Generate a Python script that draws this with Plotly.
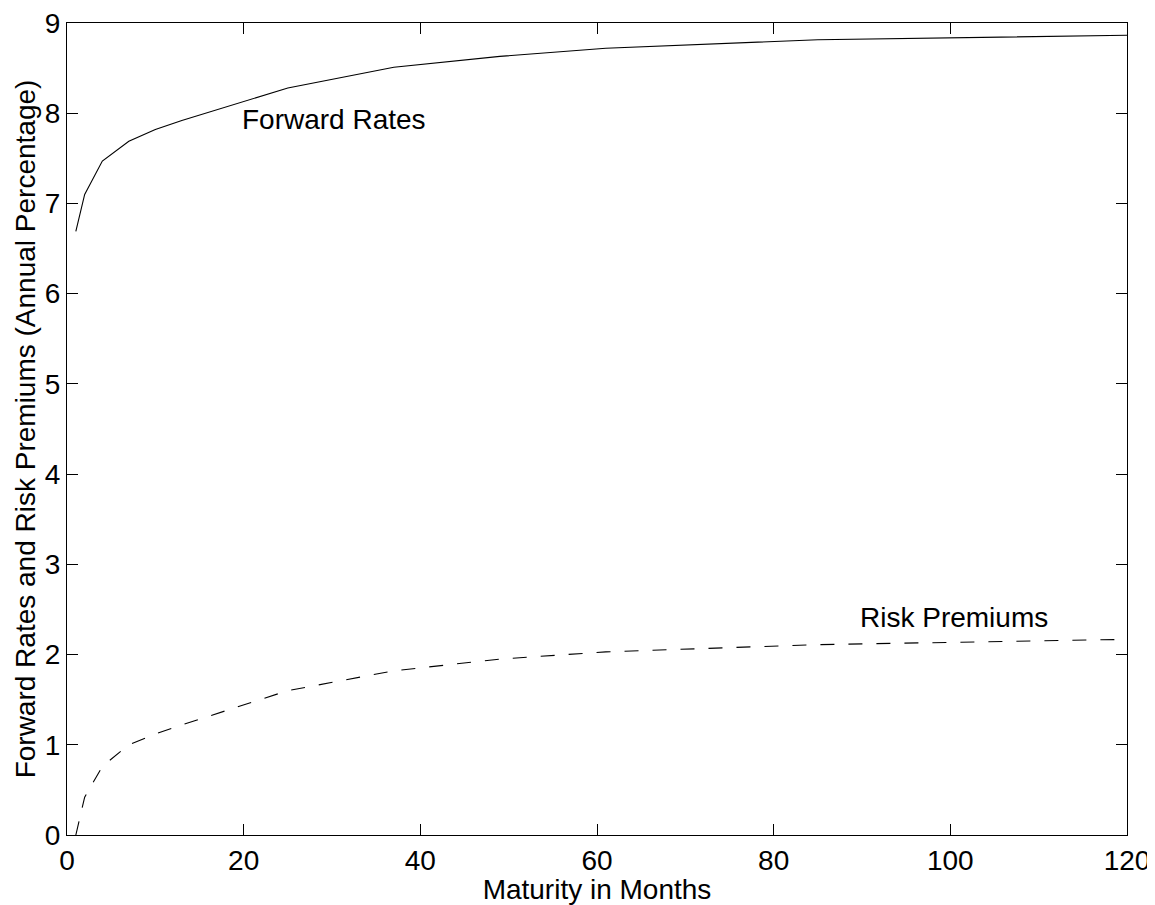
import plotly.graph_objects as go

maturity = [1, 2, 4, 7, 10, 13, 25, 37, 49, 61, 85, 121]
forward_rates = [6.69, 7.10, 7.47, 7.69, 7.82, 7.92, 8.28, 8.51, 8.63, 8.72, 8.815, 8.865]
risk_premiums = [0.0, 0.42, 0.76, 1.00, 1.12, 1.22, 1.60, 1.82, 1.95, 2.03, 2.11, 2.17]

x_ticks = [0, 20, 40, 60, 80, 100, 120]
y_ticks = [0, 1, 2, 3, 4, 5, 6, 7, 8, 9]

FONT = "Liberation Sans, Arial, sans-serif"
FS = 28

fig = go.Figure()
fig.add_trace(go.Scatter(x=maturity, y=forward_rates, mode="lines",
                         line=dict(color="black", width=1.1), name="Forward Rates"))
fig.add_trace(go.Scatter(x=maturity, y=risk_premiums, mode="lines",
                         line=dict(color="black", width=1.1, dash="14px,14px"),
                         name="Risk Premiums"))

fig.add_annotation(x=19.6, y=7.93, text="Forward Rates", showarrow=False,
                   xanchor="left", yanchor="middle", font=dict(family=FONT, size=FS, color="black"))
fig.add_annotation(x=89.5, y=2.41, text="Risk Premiums", showarrow=False,
                   xanchor="left", yanchor="middle", font=dict(family=FONT, size=FS, color="black"))

axis_common = dict(showline=True, linecolor="black", linewidth=1.3, mirror="ticks",
                   ticks="inside", ticklen=11, tickwidth=1, tickcolor="black",
                   showgrid=False, zeroline=False, automargin=False,
                   ticklabeloverflow="allow",
                   tickfont=dict(family=FONT, size=FS, color="black"))

fig.update_xaxes(range=[0, 120], tickvals=x_ticks, ticktext=[str(v) for v in x_ticks],
                 title=dict(text="Maturity in Months", font=dict(family=FONT, size=FS, color="black"),
                            standoff=0),
                 **axis_common)
fig.update_yaxes(range=[0, 9], tickvals=y_ticks, ticktext=[str(v) for v in y_ticks],
                 title=dict(text="Forward Rates and Risk Premiums (Annual Percentage)",
                            font=dict(family=FONT, size=FS, color="black"), standoff=0),
                 **axis_common)

fig.update_layout(width=1147, height=897, showlegend=False,
                  plot_bgcolor="white", paper_bgcolor="white",
                  margin=dict(l=59, r=28, t=15, b=70),
                  font=dict(family=FONT, size=FS, color="black"))

fig.write_html("out.html")
